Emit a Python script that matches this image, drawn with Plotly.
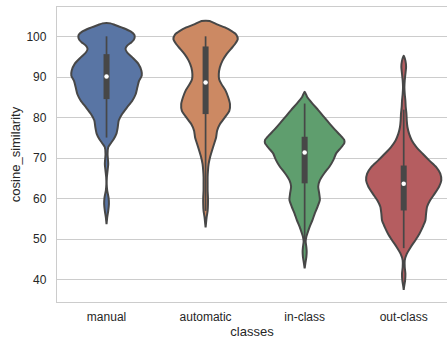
import plotly.graph_objects as go

# Categories and palette
classes = ["manual", "automatic", "in-class", "out-class"]
colors = ["#5975a4", "#cc8963", "#5f9e6e", "#b55d60"]

# Kernel-density profiles: evaluation points (cosine similarity) and relative density
manual_v = [103.4, 103.3, 102.9, 102.1, 101.3, 100.5, 99.8, 99.2, 98.6, 97.8,
            97.0, 96.1, 94.9, 93.3, 91.6, 90.4, 89.1, 87.5, 85.8, 84.2,
            82.6, 80.9, 79.3, 77.6, 76.0, 74.7, 73.5, 72.7, 71.0, 68.6,
            66.9, 65.3, 63.6, 62.0, 60.3, 58.7, 57.0, 55.4, 53.7]
manual_d = [0, 12, 25, 51, 71, 82, 83, 80, 73, 61,
            56, 61, 76, 94, 103, 104, 96, 91, 86, 76,
            61, 46, 36, 33, 29, 21, 11, 5, 3, 5,
            3, 1, 0.5, 2, 6, 7, 5, 2, 0]

auto_v = [103.95, 103.9, 103.1, 102.3, 101.4, 100.6, 99.4, 98.2, 97.0, 95.7,
          94.1, 92.4, 90.8, 89.5, 88.3, 86.7, 85.0, 83.4, 81.7, 80.1,
          78.4, 76.8, 75.1, 73.5, 71.9, 70.2, 68.6, 66.9, 65.3, 63.6,
          62.0, 60.3, 58.7, 57.0, 55.4, 53.7, 52.9]
auto_d = [0, 12, 32, 57, 77, 90, 95, 87, 75, 62,
          50, 42, 39, 40, 47, 59, 67, 72, 70, 57,
          42, 34, 31, 25, 19, 13, 9, 7, 6, 6,
          6, 7, 7, 6, 3, 1, 0]

inclass_v = [86.4, 85.2, 83.5, 81.9, 80.2, 78.6, 77.0, 75.7, 74.5, 73.7,
             72.4, 71.2, 69.6, 67.9, 66.3, 64.6, 63.0, 61.3, 59.7, 58.0,
             56.4, 54.7, 53.1, 51.4, 50.6, 49.4, 48.1, 46.9, 45.6, 44.0,
             42.8]
inclass_d = [0, 7, 23, 40, 57, 73, 90, 105, 117, 117,
             105, 93, 85, 73, 58, 45, 40, 43, 45, 38,
             30, 23, 15, 8, 5, 3, 5, 6, 5, 2,
             0]

outclass_v = [95.3, 94.1, 92.5, 90.8, 89.2, 87.5, 85.9, 84.2, 82.6, 81.0,
              79.3, 77.7, 76.0, 74.4, 72.7, 71.1, 69.4, 67.8, 66.2, 64.5,
              62.9, 61.2, 59.6, 58.0, 56.3, 54.6, 53.0, 51.3, 49.7, 48.1,
              46.4, 44.8, 43.1, 41.5, 39.8, 38.2, 37.5]
outclass_d = [0, 5, 7, 5, 3, 2, 3, 5, 6, 8,
              9, 11, 16, 24, 38, 56, 76, 96, 108, 111,
              104, 91, 78, 69, 66, 64, 56, 46, 34, 21,
              9, 3, 3, 5, 4, 1, 0]

# Box summaries: lower whisker, Q1, median, Q3, upper whisker
whisker_low = [75.1, 57.0, 49.5, 47.8]
q1 = [84.6, 80.9, 63.8, 57.1]
median = [90.2, 88.7, 71.4, 63.7]
q3 = [95.7, 97.6, 75.3, 68.2]
whisker_high = [100.1, 100.1, 83.5, 82.0]

profiles = [(manual_v, manual_d), (auto_v, auto_d),
            (inclass_v, inclass_d), (outclass_v, outclass_d)]

GRAY = "#474747"
FONT = "Liberation Sans, Arial, sans-serif"
# widest violin spans 0.8 category units
peak = max(max(d) for _, d in profiles)
half_scale = 0.4 / peak

fig = go.Figure()
for i, ((vals, dens), col) in enumerate(zip(profiles, colors)):
    xs = [i + d * half_scale for d in dens] + [i - d * half_scale for d in reversed(dens)]
    ys = list(vals) + list(reversed(vals))
    fig.add_trace(go.Scatter(
        x=xs, y=ys, mode="lines", fill="toself", fillcolor=col,
        line=dict(color=GRAY, width=2, shape="spline", smoothing=0.6),
        hoverinfo="skip", showlegend=False))
    fig.add_trace(go.Scatter(
        x=[i, i], y=[whisker_low[i], whisker_high[i]], mode="lines",
        line=dict(color=GRAY, width=1.7), hoverinfo="skip", showlegend=False))
    fig.add_trace(go.Scatter(
        x=[i, i], y=[q1[i], q3[i]], mode="lines",
        line=dict(color=GRAY, width=6), hoverinfo="skip", showlegend=False))
    fig.add_trace(go.Scatter(
        x=[i], y=[median[i]], mode="markers",
        marker=dict(color="white", size=4.5, line=dict(width=0)),
        hoverinfo="skip", showlegend=False))

fig.update_layout(
    width=447, height=345,
    margin=dict(l=57, r=0, t=7, b=43),
    paper_bgcolor="white", plot_bgcolor="white",
    font=dict(family=FONT, color="#262626"),
    xaxis=dict(
        range=[-0.5, 3.437], tickmode="array", tickvals=[0, 1, 2, 3], ticktext=classes,
        showgrid=False, zeroline=False, showline=True, mirror=True,
        linecolor="#cccccc", linewidth=1.25,
        ticks="outside", ticklen=3, tickcolor="rgba(0,0,0,0)",
        tickfont=dict(size=12, family=FONT, color="#262626"),
        title=dict(text="classes", font=dict(size=13, family=FONT, color="#262626"), standoff=4),
    ),
    yaxis=dict(
        range=[34.5, 107.34], tickmode="array", tickvals=[40, 50, 60, 70, 80, 90, 100],
        showgrid=True, gridcolor="#cccccc", gridwidth=1.1, zeroline=False,
        showline=True, linecolor="#cccccc", linewidth=1.25,
        ticks="outside", ticklen=7, tickcolor="rgba(0,0,0,0)",
        tickfont=dict(size=12, family=FONT, color="#262626"),
        title=dict(text="cosine_similarity", font=dict(size=13, family=FONT, color="#262626"), standoff=2),
    ),
)

fig.write_html("out.html")
